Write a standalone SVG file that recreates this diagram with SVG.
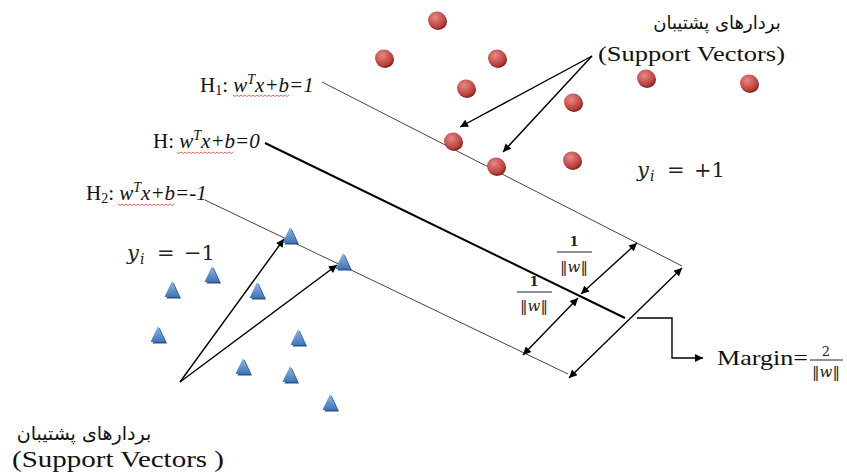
<svg xmlns="http://www.w3.org/2000/svg" xmlns:xlink="http://www.w3.org/1999/xlink" width="847" height="473" viewBox="0 0 847 473">
<style>
.serif{font-family:"Liberation Serif","Times New Roman",serif;fill:#111}
.fa{font-family:"DejaVu Sans","Noto Sans",sans-serif;fill:#111}
.it{font-style:italic}
.thin{stroke:#444;stroke-width:1;fill:none}
.thick{stroke:#000;stroke-width:2;fill:none}
.arr{stroke:#000;stroke-width:1.4;fill:none}
.sq{stroke:#d04545;stroke-width:0.8;fill:none}
.math{font-family:"DejaVu Serif","Liberation Serif",serif;fill:#222}
</style>
<defs>
<radialGradient id="rg" cx="0.4" cy="0.35" r="0.7">
<stop offset="0" stop-color="#e48a86"/>
<stop offset="0.6" stop-color="#c9524e"/>
<stop offset="1" stop-color="#a8332f"/>
</radialGradient>
<linearGradient id="bg" x1="0" y1="0" x2="0" y2="1">
<stop offset="0" stop-color="#8fbde9"/>
<stop offset="1" stop-color="#3f74b8"/>
</linearGradient>
<g id="dot">
<ellipse cx="1" cy="1.5" rx="9" ry="8.5" fill="#8a2724"/>
<ellipse cx="0" cy="0" rx="9" ry="8.5" fill="url(#rg)"/>
</g>
<g id="tri">
<polygon points="1.5,-6.5 9,9.5 -5.5,9.5" fill="#2b5288"/>
<polygon points="0,-8 7.5,8 -7.5,8" fill="url(#bg)"/>
</g>
<marker id="ah" viewBox="0 0 10 10" refX="10" refY="5" markerWidth="11" markerHeight="8" markerUnits="userSpaceOnUse" orient="auto-start-reverse">
<path d="M0,0 L10,5 L0,10 z" fill="#000"/>
</marker>
</defs>
<rect width="847" height="473" fill="#fff"/>

<g id="connectors">
<line id="H1" class="thin" x1="322" y1="82" x2="682" y2="266"/>
<line id="H" class="thick" x1="265" y1="143" x2="625" y2="318"/>
<line id="H2" class="thin" x1="205" y1="200" x2="568" y2="374"/>
<line class="arr" x1="592" y1="56" x2="460" y2="127" marker-end="url(#ah)"/>
<line class="arr" x1="592" y1="56" x2="503" y2="152" marker-end="url(#ah)"/>
<line class="arr" x1="180" y1="382" x2="284" y2="239" marker-end="url(#ah)"/>
<line class="arr" x1="180" y1="382" x2="337" y2="265" marker-end="url(#ah)"/>
<line class="arr" x1="581" y1="294" x2="637" y2="243" marker-start="url(#ah)" marker-end="url(#ah)"/>
<line class="arr" x1="523" y1="355" x2="578" y2="298" marker-start="url(#ah)" marker-end="url(#ah)"/>
<line class="arr" x1="569" y1="378" x2="682" y2="268" marker-start="url(#ah)" marker-end="url(#ah)"/>
<polyline class="arr" points="637,318 672,318 672,358 703,358" marker-end="url(#ah)"/>
</g>

<g id="positive-points">
<use xlink:href="#dot" x="437" y="20"/>
<use xlink:href="#dot" x="384" y="58"/>
<use xlink:href="#dot" x="497" y="58"/>
<use xlink:href="#dot" x="466" y="88"/>
<use xlink:href="#dot" x="573" y="102"/>
<use xlink:href="#dot" x="646" y="78"/>
<use xlink:href="#dot" x="749" y="83"/>
<use xlink:href="#dot" x="453" y="141"/>
<use xlink:href="#dot" x="496" y="166"/>
<use xlink:href="#dot" x="572" y="160"/>
</g>

<g id="negative-points">
<use xlink:href="#tri" x="290" y="235"/>
<use xlink:href="#tri" x="343" y="261"/>
<use xlink:href="#tri" x="212" y="274"/>
<use xlink:href="#tri" x="172" y="289"/>
<use xlink:href="#tri" x="257" y="290"/>
<use xlink:href="#tri" x="158" y="334"/>
<use xlink:href="#tri" x="298" y="337"/>
<use xlink:href="#tri" x="243" y="366"/>
<use xlink:href="#tri" x="290" y="374"/>
<use xlink:href="#tri" x="330" y="402"/>
</g>

<g id="label-H1">
<text class="serif" x="200" y="92" font-size="21">H<tspan font-size="14" dy="3">1</tspan><tspan dy="-3">: </tspan><tspan class="it">w</tspan><tspan class="it" font-size="14" dy="-8">T</tspan><tspan class="it" dy="8">x+b=1</tspan></text>
<path class="sq" d="M233,95 l2,1.5 l2,-1.5 l2,1.5 l2,-1.5 l2,1.5 l2,-1.5 l2,1.5 l2,-1.5 l2,1.5 l2,-1.5 l2,1.5 l2,-1.5 l2,1.5 l2,-1.5 l2,1.5 l2,-1.5 l2,1.5 l2,-1.5 l2,1.5 l2,-1.5 l2,1.5 l2,-1.5 l2,1.5 l2,-1.5 l2,1.5 l2,-1.5 l2,1.5 l2,-1.5"/>
</g>
<g id="label-H">
<text class="serif" x="153" y="148" font-size="21">H: <tspan class="it">w</tspan><tspan class="it" font-size="14" dy="-8">T</tspan><tspan class="it" dy="8">x+b=0</tspan></text>
<path class="sq" d="M177,152 l2,1.5 l2,-1.5 l2,1.5 l2,-1.5 l2,1.5 l2,-1.5 l2,1.5 l2,-1.5 l2,1.5 l2,-1.5 l2,1.5 l2,-1.5 l2,1.5 l2,-1.5 l2,1.5 l2,-1.5 l2,1.5 l2,-1.5 l2,1.5 l2,-1.5 l2,1.5 l2,-1.5 l2,1.5 l2,-1.5 l2,1.5 l2,-1.5 l2,1.5 l2,-1.5"/>
</g>
<g id="label-H2">
<text class="serif" x="86" y="200" font-size="21">H<tspan font-size="14" dy="3">2</tspan><tspan dy="-3">: </tspan><tspan class="it">w</tspan><tspan class="it" font-size="14" dy="-8">T</tspan><tspan class="it" dy="8">x+b=-1</tspan></text>
<path class="sq" d="M118,204 l2,1.5 l2,-1.5 l2,1.5 l2,-1.5 l2,1.5 l2,-1.5 l2,1.5 l2,-1.5 l2,1.5 l2,-1.5 l2,1.5 l2,-1.5 l2,1.5 l2,-1.5 l2,1.5 l2,-1.5 l2,1.5 l2,-1.5 l2,1.5 l2,-1.5 l2,1.5 l2,-1.5 l2,1.5 l2,-1.5 l2,1.5 l2,-1.5 l2,1.5 l2,-1.5"/>
</g>

<g id="label-sv-top">
<text class="fa" x="717" y="29" font-size="18" text-anchor="middle">بردارهای پشتیبان</text>
<text class="serif" x="598" y="61" font-size="22" textLength="187" lengthAdjust="spacingAndGlyphs">(Support Vectors)</text>
</g>
<g id="label-sv-bottom">
<text class="fa" x="84" y="440" font-size="19" text-anchor="middle">بردارهای پشتیبان</text>
<text class="serif" x="12" y="467" font-size="23" textLength="212" lengthAdjust="spacingAndGlyphs">(Support Vectors )</text>
</g>

<g id="label-yplus">
<text class="math" font-size="21" y="177"><tspan class="it" x="637">y</tspan><tspan class="it" font-size="14" x="650" dy="4">i</tspan><tspan x="667" dy="-4">=</tspan><tspan x="694">+1</tspan></text>
</g>
<g id="label-yminus">
<text class="math" font-size="21" y="260"><tspan class="it" x="127">y</tspan><tspan class="it" font-size="14" x="140" dy="4">i</tspan><tspan x="157" dy="-4">=</tspan><tspan x="184">−1</tspan></text>
</g>

<g id="frac-upper">
<text class="math" x="574" y="246" font-size="13" font-weight="bold" text-anchor="middle">1</text>
<line x1="557" y1="252" x2="592" y2="252" stroke="#222" stroke-width="1"/>
<text class="math" x="574" y="272" font-size="15" text-anchor="middle">‖<tspan class="it">w</tspan>‖</text>
</g>
<g id="frac-lower">
<text class="math" x="534" y="286" font-size="13" font-weight="bold" text-anchor="middle">1</text>
<line x1="517" y1="292" x2="552" y2="292" stroke="#222" stroke-width="1"/>
<text class="math" x="534" y="311" font-size="15" text-anchor="middle">‖<tspan class="it">w</tspan>‖</text>
</g>
<g id="label-margin">
<text class="serif" x="717" y="365" font-size="21" textLength="91" lengthAdjust="spacingAndGlyphs">Margin=</text>
<text class="math" x="826" y="356" font-size="13" text-anchor="middle">2</text>
<line x1="810" y1="360" x2="843" y2="360" stroke="#222" stroke-width="1"/>
<text class="math" x="826" y="377" font-size="15" text-anchor="middle">‖<tspan class="it">w</tspan>‖</text>
</g>
</svg>
